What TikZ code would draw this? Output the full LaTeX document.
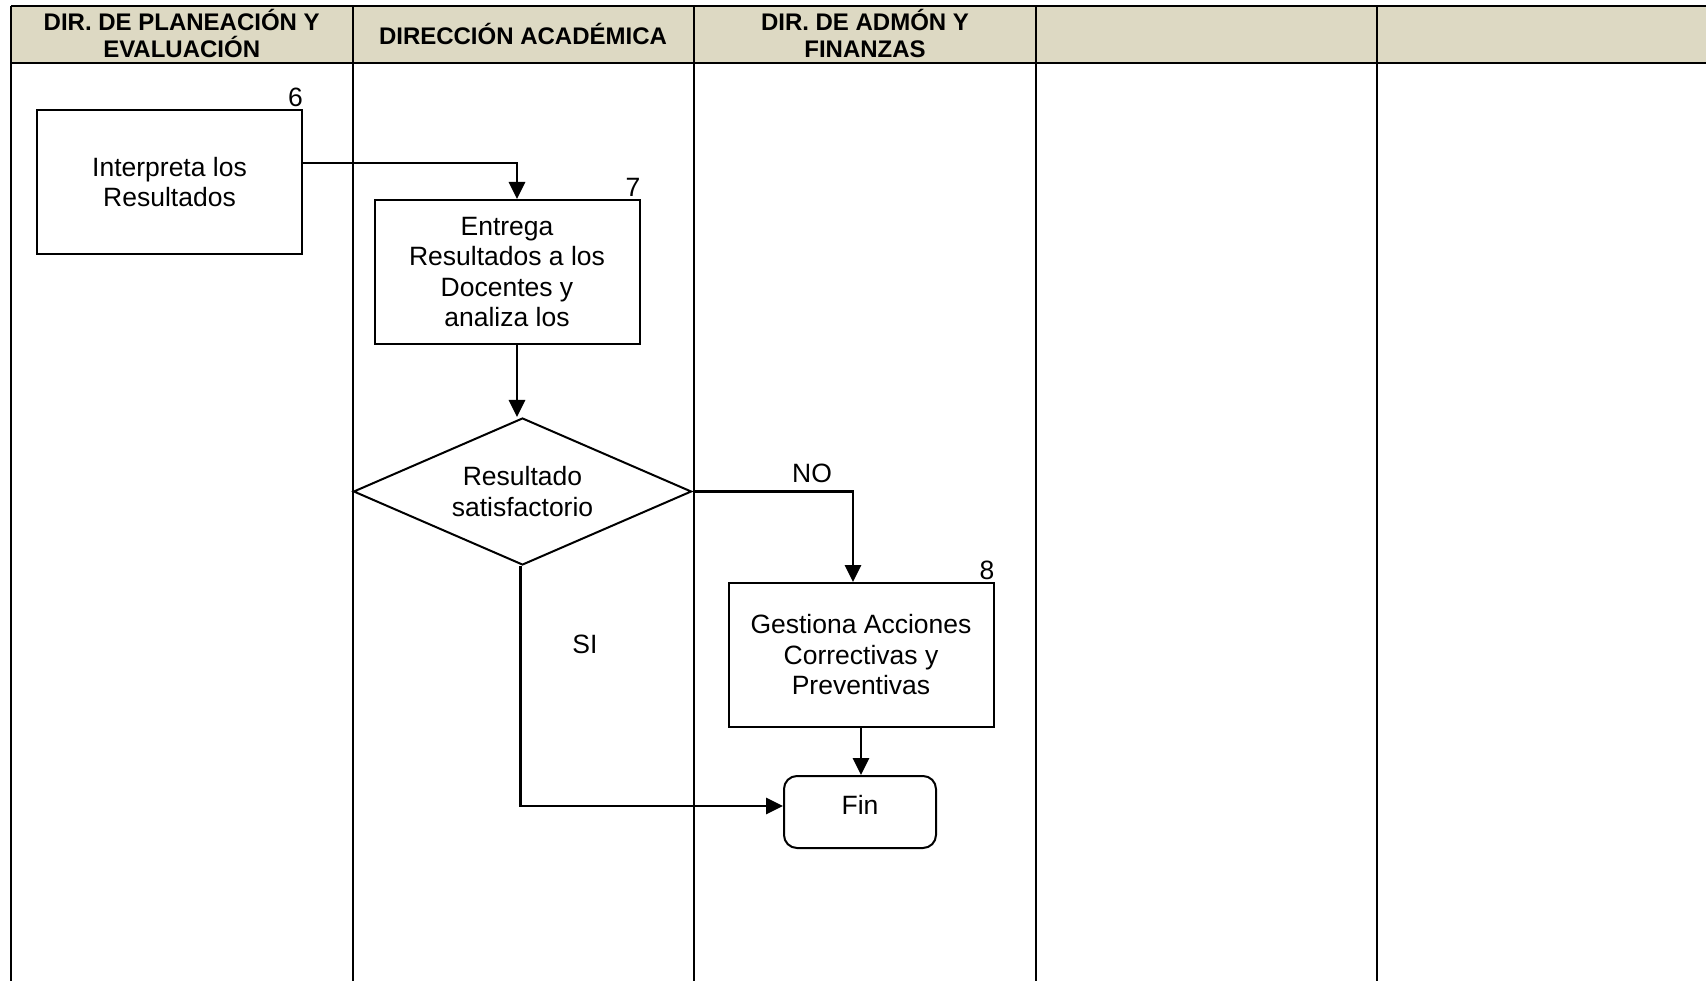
\documentclass[tikz,border=0pt]{standalone}
\usepackage{fontspec}
\setmainfont{Liberation Sans}
\usetikzlibrary{shapes.geometric,arrows.meta}
\definecolor{headfill}{RGB}{221,217,195}
\begin{document}
\begin{tikzpicture}[x=1pt,y=-1pt,
  grid/.style={line width=2pt},
  headline/.style={line width=2.6pt},
  head/.style={align=center,font=\bfseries\fontsize{24}{26.5}\selectfont,inner sep=0pt},
  txt/.style={font=\fontsize{26.5}{30.5}\selectfont},
  procbox/.style={draw,line width=2pt,minimum width=265pt,minimum height=144pt,align=center,inner sep=0pt,txt},
  num/.style={inner sep=0pt,anchor=south east,yshift=2pt,txt},
  arr/.style={line width=2.8pt,-{Triangle[length=17pt,width=16pt]}}
]
\useasboundingbox (0,0) rectangle (1706,981);
% table
\fill[headfill] (10.9,6) rectangle (1706,63);
\draw[grid] (10.9,6) -- (10.9,981);
\draw[headline] (1706,6) -- (10.9,6);
\draw[headline] (10.9,63) -- (1706,63);
\foreach \x in {352.5,694,1036,1377.4} \draw[grid] (\x,6) -- (\x,981);
% headers
\node[head] (h1) at (181.7,33.5) {DIR. DE PLANEACIÓN Y\\EVALUACIÓN};
\node[head] (h2) at (523,33.5) {DIRECCIÓN ACADÉMICA};
\node[head] (h3) at (865,33.5) {DIR. DE ADMÓN Y\\FINANZAS};
% nodes
\node[procbox] (b6) at (169.5,182) {Interpreta los\\Resultados};
\node[num] (n6) at (b6.north east) {6};
\node[procbox] (b7) at (507,272) {Entrega\\Resultados a los\\Docentes y\\analiza los};
\node[num] (n7) at (b7.north east) {7};
\node[draw,line width=2pt,shape=diamond,shape aspect=2.3,minimum width=338pt,minimum height=147pt,inner sep=0pt,align=center,txt] (dia) at (522.5,491.5) {Resultado\\satisfactorio};
\node[procbox] (b8) at (861,655) {Gestiona Acciones\\Correctivas y\\Preventivas};
\node[num] (n8) at (b8.north east) {8};
\node[draw,line width=2pt,rounded corners=13pt,minimum width=152pt,minimum height=72pt,text depth=15pt,inner sep=0pt,txt] (fin) at (860,812) {Fin};
% connectors
\draw[arr] ([yshift=19pt]b6.east) -| ([xshift=10pt]b7.north);
\draw[arr] ([xshift=10pt]b7.south) -- ([xshift=10pt]b7.south |- dia.north);
\draw[arr] (dia.east) -| ([xshift=-8pt]b8.north);
\draw[arr] (b8.south) -- (b8.south |- fin.north);
\draw[arr] ([xshift=-2pt]dia.south) |- ([yshift=6pt]fin.west);
% labels
\node[txt] (lno) at (812,473) {NO};
\node[txt] (lsi) at (585,644) {SI};
\end{tikzpicture}
\end{document}
